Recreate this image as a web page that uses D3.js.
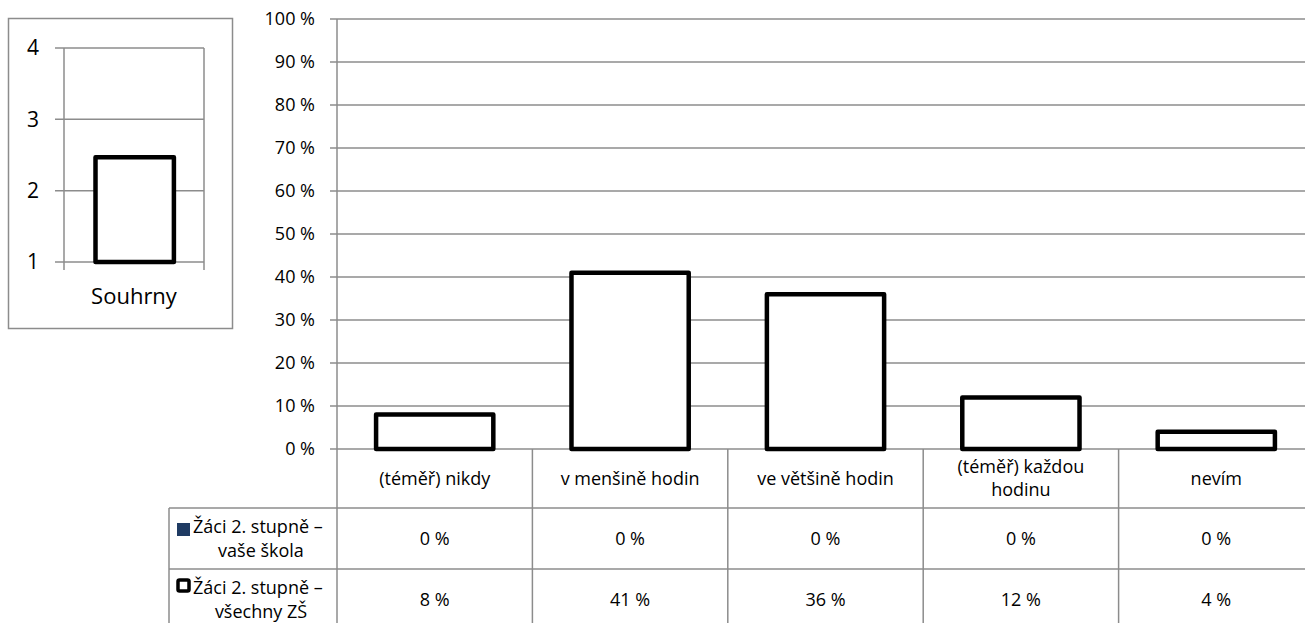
<!DOCTYPE html>
<html>
<head>
<meta charset="utf-8">
<script src="https://cdn.jsdelivr.net/npm/d3@7"></script>
<style>
  body { margin: 0; background: #fff; }
  svg { display: block; font-family: "Open Sans", sans-serif; }
</style>
</head>
<body>
<div id="chart"></div>
<script>
var categories = ["(téměř) nikdy", "v menšině hodin", "ve většině hodin", "(téměř) každou hodinu", "nevím"];
var categoryLines = [["(téměř) nikdy"], ["v menšině hodin"], ["ve většině hodin"], ["(téměř) každou", "hodinu"], ["nevím"]];
var seriesNames = [["Žáci 2. stupně –", "vaše škola"], ["Žáci 2. stupně –", "všechny ZŠ"]];
var schoolValues = [0, 0, 0, 0, 0];
var allValues = [0.08, 0.41, 0.36, 0.12, 0.04];
var percentTicks = [0, 0.1, 0.2, 0.3, 0.4, 0.5, 0.6, 0.7, 0.8, 0.9, 1];
var summaryCategory = ["Souhrny"];
var summarySchool = [1];
var summaryAll = [2.47];
var summaryTicks = [1, 2, 3, 4];

var width = 1305, height = 623;
var gridColor = "#8c8c8c";
var blue = "#1f3b63";
var fontMain = "18px";

var svg = d3.select("#chart").append("svg")
    .attr("width", width)
    .attr("height", height);

// ---------- main chart ----------
var plotLeft = 337, plotTop = 19, plotBottom = 449, plotRight = 1314;
var x = d3.scaleBand().domain(categories).range([plotLeft, plotRight]).padding(0);
var y = d3.scaleLinear().domain([0, 1]).range([plotBottom, plotTop]);
var rowEdges = [plotBottom, 508, 569, 632];

// gridlines
svg.append("g").selectAll("line")
    .data(percentTicks)
    .join("line")
    .attr("x1", plotLeft - 7)
    .attr("x2", plotRight)
    .attr("y1", d => y(d))
    .attr("y2", d => y(d))
    .style("stroke", gridColor)
    .style("stroke-width", 1.5);

svg.append("g").selectAll("text")
    .data(percentTicks)
    .join("text")
    .attr("x", 315)
    .attr("y", d => y(d))
    .attr("dy", "0.35em")
    .attr("text-anchor", "end")
    .style("font-size", fontMain)
    .text(d => Math.round(d * 100) + " %");

// vertical axis running into the table
svg.append("line")
    .attr("x1", plotLeft).attr("x2", plotLeft)
    .attr("y1", plotTop).attr("y2", height)
    .style("stroke", gridColor)
    .style("stroke-width", 1.5);

// table lines
svg.append("g").selectAll("line")
    .data(categories)
    .join("line")
    .attr("x1", d => x(d) + x.bandwidth())
    .attr("x2", d => x(d) + x.bandwidth())
    .attr("y1", plotBottom)
    .attr("y2", height)
    .style("stroke", gridColor)
    .style("stroke-width", 1.5);

svg.append("g").selectAll("line")
    .data(rowEdges.slice(1, 3))
    .join("line")
    .attr("x1", 169).attr("x2", plotRight)
    .attr("y1", d => d).attr("y2", d => d)
    .style("stroke", gridColor)
    .style("stroke-width", 1.5);

svg.append("line")
    .attr("x1", 169).attr("x2", 169)
    .attr("y1", rowEdges[1]).attr("y2", height)
    .style("stroke", gridColor)
    .style("stroke-width", 1.5);

// bars - school series (zero, dark blue)
svg.append("g").selectAll("rect")
    .data(schoolValues)
    .join("rect")
    .attr("x", (d, i) => x(categories[i]) + x.bandwidth() * 0.2)
    .attr("width", x.bandwidth() * 0.6)
    .attr("y", d => y(d))
    .attr("height", d => y(0) - y(d))
    .style("fill", blue)
    .style("stroke", blue)
    .style("stroke-width", 1);

// bars - all schools (white with thick black outline)
svg.append("g").selectAll("rect")
    .data(allValues)
    .join("rect")
    .attr("x", (d, i) => x(categories[i]) + x.bandwidth() * 0.2)
    .attr("width", x.bandwidth() * 0.6)
    .attr("y", d => y(d))
    .attr("height", d => y(0) - y(d))
    .style("fill", "#fff")
    .style("stroke", "#000")
    .style("stroke-width", 4.5)
    .style("stroke-linejoin", "round");

// category row
categoryLines.forEach(function(lines, i) {
    var cx = x(categories[i]) + x.bandwidth() / 2;
    var cy = (rowEdges[0] + rowEdges[1]) / 2;
    lines.forEach(function(line, j) {
        svg.append("text")
            .attr("x", cx)
            .attr("y", cy + (j - (lines.length - 1) / 2) * 23)
            .attr("dy", "0.35em")
            .attr("text-anchor", "middle")
            .style("font-size", fontMain)
            .text(line);
    });
});

// value rows
[schoolValues, allValues].forEach(function(vals, r) {
    var cy = (rowEdges[r + 1] + rowEdges[r + 2]) / 2;
    var textY = r == 1 ? 600 : cy;
    svg.append("g").selectAll("text")
        .data(vals)
        .join("text")
        .attr("x", (d, i) => x(categories[i]) + x.bandwidth() / 2)
        .attr("y", textY)
        .attr("dy", "0.35em")
        .attr("text-anchor", "middle")
        .style("font-size", fontMain)
        .text(d => Math.round(d * 100) + " %");

    // legend label
    var names = seriesNames[r];
    svg.append("text")
        .attr("x", 193)
        .attr("y", textY - 12)
        .attr("dy", "0.35em")
        .style("font-size", fontMain)
        .text(names[0]);
    svg.append("text")
        .attr("x", 261)
        .attr("y", textY + 12)
        .attr("dy", "0.35em")
        .attr("text-anchor", "middle")
        .style("font-size", fontMain)
        .text(names[1]);
});

// legend keys
svg.append("rect")
    .attr("x", 177).attr("y", 523)
    .attr("width", 13).attr("height", 13)
    .style("fill", blue);
svg.append("rect")
    .attr("x", 178).attr("y", 580)
    .attr("width", 11).attr("height", 11)
    .attr("rx", 1.5)
    .style("fill", "#fff")
    .style("stroke", "#000")
    .style("stroke-width", 3.5);

// ---------- summary chart ----------
svg.append("rect")
    .attr("x", 8.5).attr("y", 18.5)
    .attr("width", 224).attr("height", 310)
    .style("fill", "none")
    .style("stroke", gridColor)
    .style("stroke-width", 1.5);

var sx = d3.scaleBand().domain(summaryCategory).range([64, 204]).padding(0);
var sy = d3.scaleLinear().domain([1, 4]).range([262, 48]);

svg.append("g").selectAll("line")
    .data(summaryTicks)
    .join("line")
    .attr("x1", 55).attr("x2", 204)
    .attr("y1", d => sy(d)).attr("y2", d => sy(d))
    .style("stroke", gridColor)
    .style("stroke-width", 1.5);

svg.append("g").selectAll("line")
    .data([64, 204])
    .join("line")
    .attr("x1", d => d).attr("x2", d => d)
    .attr("y1", sy(4)).attr("y2", 270)
    .style("stroke", gridColor)
    .style("stroke-width", 1.5);

svg.append("g").selectAll("text")
    .data(summaryTicks)
    .join("text")
    .attr("x", 39)
    .attr("y", d => sy(d))
    .attr("dy", "0.35em")
    .attr("text-anchor", "end")
    .style("font-size", "21px")
    .text(d => d);

svg.append("g").selectAll("rect.school")
    .data(summarySchool)
    .join("rect")
    .attr("x", (d, i) => sx(summaryCategory[i]) + sx.bandwidth() * 0.29)
    .attr("width", sx.bandwidth() * 0.42)
    .attr("y", d => sy(d) - 1)
    .attr("height", 2)
    .style("fill", blue);

svg.append("g").selectAll("rect.all")
    .data(summaryAll)
    .join("rect")
    .attr("x", (d, i) => sx(summaryCategory[i]) + sx.bandwidth() * 0.225)
    .attr("width", sx.bandwidth() * 0.56)
    .attr("y", d => sy(d))
    .attr("height", d => sy(1) - sy(d))
    .style("fill", "#fff")
    .style("stroke", "#000")
    .style("stroke-width", 4.5)
    .style("stroke-linejoin", "round");

svg.append("text")
    .attr("x", sx("Souhrny") + sx.bandwidth() / 2)
    .attr("y", 296)
    .attr("dy", "0.35em")
    .attr("text-anchor", "middle")
    .style("font-size", "22px")
    .text(summaryCategory[0]);
</script>
</body>
</html>
